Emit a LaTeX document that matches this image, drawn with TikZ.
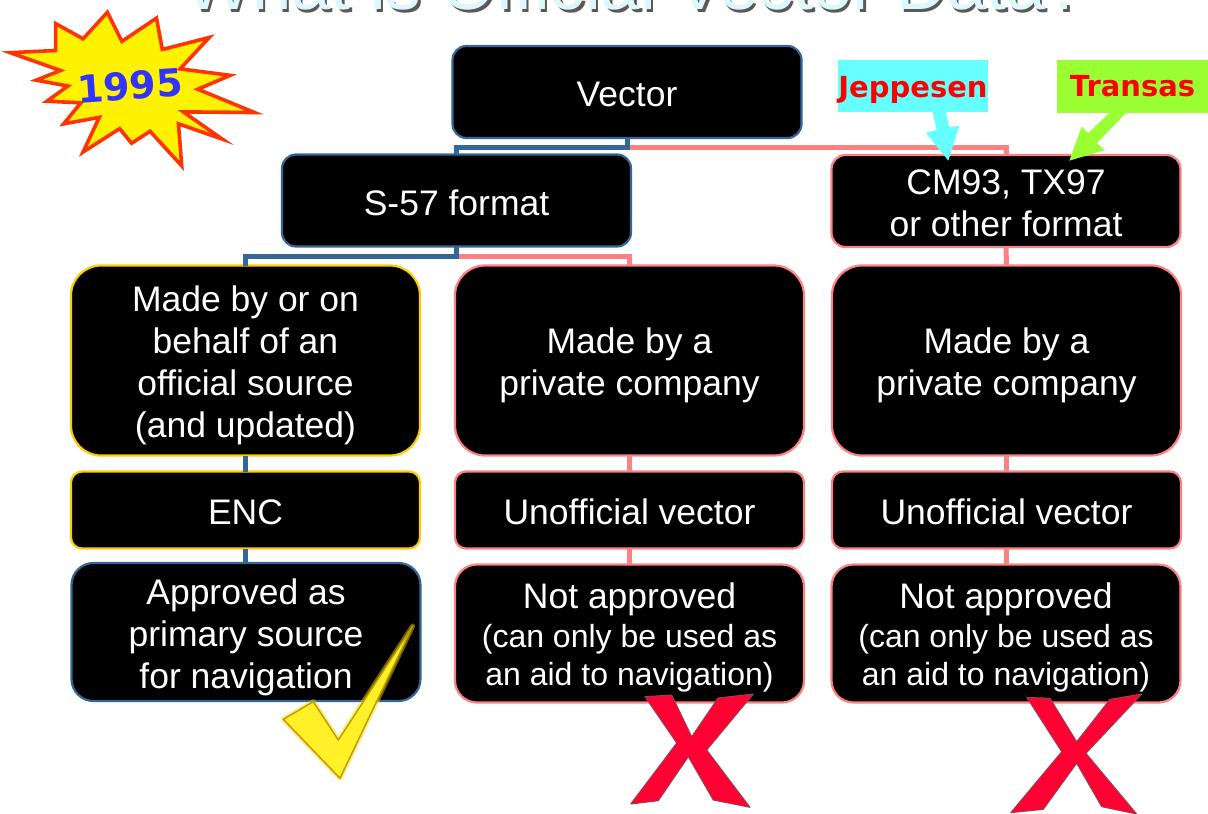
\documentclass[tikz,border=0pt]{standalone}
\usepackage{fontspec}
\setmainfont{Liberation Sans}
\newfontfamily\vfont{DejaVu Sans}[BoldFont={DejaVu Sans Bold}]
\definecolor{linkblue}{HTML}{336699}
\definecolor{linkpink}{HTML}{FF8080}
\definecolor{boxgold}{HTML}{FFCC00}
\definecolor{titlepale}{HTML}{DDF8FA}
\definecolor{burst}{HTML}{FF3300}
\definecolor{jepcyan}{HTML}{66FFFF}
\definecolor{trangreen}{HTML}{99FF33}
\definecolor{crossred}{HTML}{FF0033}
\definecolor{crossedge}{HTML}{99404F}
\tikzset{
  box/.style={fill=black,line width=2.2pt,inner sep=0pt,outer sep=0pt},
  say/.style={text=white,inner sep=0pt,outer sep=0pt,align=center,
              font=\fontsize{35.5}{42}\selectfont},
  widebox/.style={minimum width=349pt},
  rowtop/.style={minimum height=92pt,rounded corners=14pt},
  rowtall/.style={minimum height=190pt,rounded corners=30pt},
  rowthin/.style={minimum height=77pt,rounded corners=11pt},
  rowlow/.style={minimum height=138pt,rounded corners=22pt},
  bluebox/.style={draw=linkblue},
  pinkbox/.style={draw=linkpink},
  goldbox/.style={draw=boxgold},
  bluelink/.style={draw=linkblue,line width=5pt},
  pinklink/.style={draw=linkpink,line width=5pt},
  tag/.style={inner sep=0pt,outer sep=0pt},
  tagtext/.style={inner sep=0pt,text=red,font=\vfont\bfseries\fontsize{29}{32}\selectfont},
  crossmark/.style={fill=crossred,draw=crossedge,line width=1pt,line join=round},
  titletext/.style={anchor=base west,inner sep=0pt,font=\fontsize{70.8}{80}\selectfont},
}
\newcommand{\smallline}[1]{{\fontsize{32}{38}\selectfont #1}}
\begin{document}
\begin{tikzpicture}[x=1pt,y=-1pt]
\useasboundingbox (0,0) rectangle (1208,814);
\clip (0,0) rectangle (1208,814);
\fill[white] (0,0) rectangle (1208,814);
% title, cut by the top edge
\node[titletext,text=black!65] (titleshadow) at (187.5,12) {What is Official Vector Data?};
\node[titletext,text=titlepale] (title) at (185,9.5) {What is Official Vector Data?};
% boxes
\node[box,widebox,rowtop,bluebox,label={[say,yshift=-2pt]center:Vector}] (vec) at (627,92) {};
\node[box,widebox,rowtop,bluebox,label={[say,yshift=-2pt]center:S-57 format}] (s57) at (456.5,200.5) {};
\node[box,widebox,rowtop,pinkbox,label={[say,yshift=-2pt]center:{CM93, TX97\hspace{11pt}\\or other format}}] (cm) at (1006,201) {};
\node[box,widebox,rowtall,goldbox,label={[say,yshift=-5pt]center:{Made by or on\\behalf of an\\official source\\(and updated)}}] (made1) at (245.5,360.5) {};
\node[box,widebox,rowtall,pinkbox,label={[say,yshift=-5pt]center:{Made by a\\private company}}] (made2) at (629.5,360.5) {};
\node[box,widebox,rowtall,pinkbox,label={[say,yshift=-5pt]center:{Made by a\\private company}}] (made3) at (1006.5,360.5) {};
\node[box,widebox,rowthin,goldbox,label={[say,yshift=-2pt]center:ENC}] (enc) at (245.5,510) {};
\node[box,widebox,rowthin,pinkbox,label={[say,yshift=-2pt]center:Unofficial vector}] (un2) at (629.5,510) {};
\node[box,widebox,rowthin,pinkbox,label={[say,yshift=-2pt]center:Unofficial vector}] (un3) at (1006.5,510) {};
\node[box,widebox,rowlow,bluebox,label={[say,yshift=-5.5pt]center:{Approved as\\primary source\\for navigation}}] (app) at (246,632) {};
\node[box,widebox,rowlow,pinkbox,label={[say,yshift=-4pt]center:{Not approved\\[-2.5pt]\smallline{(can only be used as}\\[-4pt]\smallline{an aid to navigation)}}}] (no2) at (629.5,633.5) {};
\node[box,widebox,rowlow,pinkbox,label={[say,yshift=-4pt]center:{Not approved\\[-2.5pt]\smallline{(can only be used as}\\[-4pt]\smallline{an aid to navigation)}}}] (no3) at (1006,633.5) {};
% connectors
\draw[pinklink] (vec.south) -- ++(0,9) -| (cm.north);
\draw[bluelink] (vec.south) -- ++(0,9) -| (s57.north);
\draw[pinklink] (s57.south) -- ++(0,10) -| (made2.north);
\draw[bluelink] (s57.south) -- ++(0,10) -| (made1.north);
\draw[pinklink] (cm.south) -- (made3.north);
\draw[bluelink] (made1.south) -- (enc.north);
\draw[bluelink] (enc.south) -- (enc.south |- app.north);
\draw[pinklink] (made2.south) -- (un2.north);
\draw[pinklink] (un2.south) -- (no2.north);
\draw[pinklink] (made3.south) -- (un3.north);
\draw[pinklink] (un3.south) -- (un3.south |- no3.north);
% burst
\filldraw[fill=yellow,draw=burst,line width=3.6pt,line join=miter,miter limit=20,shift={(3.9,2.6)},scale=0.3233]
  (20,155) -- (160,148) -- (160,65) -- (245,112) -- (320,30) -- (365,120) -- (472,48)
  -- (490,145) -- (635,108) -- (545,205) -- (700,225) -- (600,268) -- (775,340)
  -- (555,338) -- (675,422) -- (540,375) -- (550,505) -- (452,398) -- (395,435)
  -- (358,390) -- (245,462) -- (295,355) -- (185,375) -- (238,310) -- (133,305)
  -- (198,258) -- (100,240) -- (175,210) -- cycle;
\node[inner sep=0pt,text={rgb,255:red,51;green,51;blue,255},rotate=4,font=\vfont\bfseries\fontsize{38}{40}\selectfont] (year) at (130,86) {1995};
% labels with their pointers
\fill[jepcyan] (932.7,112) -- (945.7,112) -- (949,127) -- (959.3,126) -- (948.3,160.7) -- (926,132.7) -- (936.7,130) -- cycle;
\fill[trangreen] (1109.3,113) -- (1126,113) -- (1096.7,143.3) -- (1105,150) -- (1069.3,160.7) -- (1081.7,126.7) -- (1088.3,133.3) -- cycle;
\node[tag,fill=jepcyan,minimum width=150pt,minimum height=52pt,label={[tagtext,yshift=-4pt]center:Jeppesen}] (jep) at (913,86) {};
\node[tag,fill=trangreen,minimum width=151pt,minimum height=53pt,label={[tagtext,yshift=0pt]center:Transas}] (tra) at (1132.5,86.5) {};
% check mark
\draw[yellow!70!orange,opacity=.45,line width=5pt,line join=round] (412.7,626) -- (340,778.3) -- (283.3,719.3) -- (313.3,701.7) -- (338.3,740) -- cycle;
\filldraw[fill={rgb,255:red,255;green,240;blue,40},draw={rgb,255:red,190;green,160;blue,0},line width=1.5pt,line join=round]
  (412.7,626) -- (340,778.3) -- (283.3,719.3) -- (313.3,701.7) -- (338.3,740) -- cycle;
% crosses
\filldraw[crossmark] (645,696.7) -- (671.7,695) -- (691.7,736.7) -- (718,698) -- (753.3,694) -- (706.7,750) -- (750,807.3) -- (713.3,800) -- (688.3,756.7) -- (658.3,800.7) -- (630.7,804) -- (676.7,743) -- cycle;
\filldraw[crossmark] (1026.7,697.3) -- (1050,698.3) -- (1076.7,741.7) -- (1110,699.3) -- (1141.7,694) -- (1086,753.3) -- (1136.7,814) -- (1101.7,806.7) -- (1076.7,763.3) -- (1043.3,809.3) -- (1010.7,812.7) -- (1061.7,751.7) -- cycle;
\end{tikzpicture}
\end{document}
